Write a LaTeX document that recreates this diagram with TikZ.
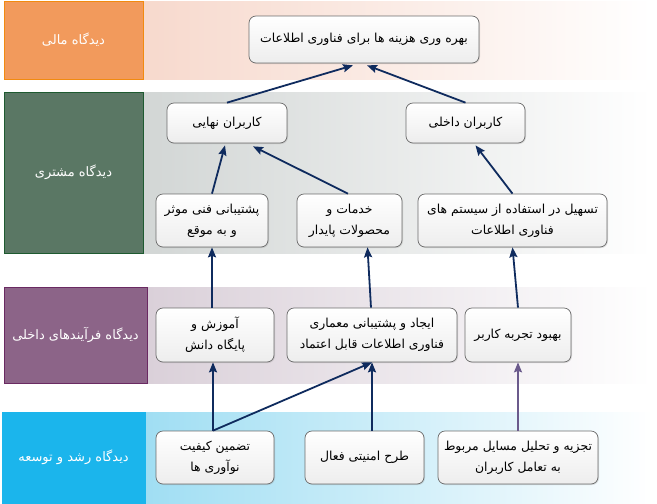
\documentclass[tikz,border=0pt]{standalone}
\usepackage{fontspec}
\newfontfamily\arabicfont[Script=Arabic]{DejaVu Sans}
\TeXXeTstate=1
\usetikzlibrary{shadows,arrows.meta}
\newcommand{\RLtext}[1]{\beginR #1\endR}
\definecolor{navy}{HTML}{0F2B5E}
\definecolor{purpline}{HTML}{6B5A8C}
\definecolor{orangebox}{HTML}{F29A5C}
\definecolor{orangeedge}{HTML}{F28A10}
\definecolor{greenbox}{HTML}{5A7764}
\definecolor{greenedge}{HTML}{1E5A30}
\definecolor{purplebox}{HTML}{8C6488}
\definecolor{purpleedge}{HTML}{6A2A62}
\definecolor{cyanbox}{HTML}{1BB5EC}
\definecolor{band1}{HTML}{F7D9CD}
\definecolor{band2}{HTML}{D2D6D5}
\definecolor{band3}{HTML}{DAD0D9}
\definecolor{band4}{HTML}{A0DEF3}
\begin{document}
\begin{tikzpicture}[x=1pt,y=-1pt,
  stepbox/.style={draw=gray!85!black, line width=0.7pt, rounded corners=7pt,
    top color=white, bottom color=gray!14, drop shadow={opacity=0.25,shadow xshift=1pt,shadow yshift=-1pt},
    inner sep=0pt, align=center, font=\arabicfont\fontsize{12.4}{21}\selectfont, text=black},
  viewbox/.style={inner sep=0pt, align=center, text=white, font=\arabicfont\fontsize{13}{15}\selectfont, line width=0.8pt},
  link/.style={draw=navy, line width=1.8pt, -{Stealth[length=10pt,width=8pt,inset=1.5pt]}},
  plink/.style={draw=purpline, line width=1.8pt, -{Stealth[length=10pt,width=8pt,inset=1.5pt]}}
]
\useasboundingbox (0,0) rectangle (657,504);
% bands
\fill[left color=band1, right color=white] (143,1) rectangle (652,79);
\fill[left color=band2, right color=white] (143,92) rectangle (652,253);
\fill[left color=band3, right color=white] (147,287) rectangle (652,383);
\fill[left color=band4, right color=white] (145,412) rectangle (652,503);
% perspective labels
\node[viewbox, fill=orangebox, draw=orangeedge, minimum width=139pt, minimum height=78pt] (v1) at (73.5,40) {\RLtext{دیدگاه مالی}};
\node[viewbox, fill=greenbox, draw=greenedge, minimum width=139pt, minimum height=161pt] (v2) at (73.5,172.5) {\RLtext{دیدگاه مشتری}};
\node[viewbox, fill=purplebox, draw=purpleedge, minimum width=143pt, minimum height=96pt] (v3) at (75.5,335) {\RLtext{دیدگاه فرآیندهای داخلی}};
\node[viewbox, fill=cyanbox, draw=cyanbox, minimum width=143pt, minimum height=91pt] (v4) at (73.5,457.5) {\RLtext{دیدگاه رشد و توسعه}};
% nodes
\node[stepbox, minimum width=230pt, minimum height=47pt] (top) at (364,39.5) {\RLtext{بهره وری هزینه ها برای فناوری اطلاعات}};
\node[stepbox, minimum width=120pt, minimum height=40pt] (nahaee) at (227,123) {\RLtext{کاربران نهایی}};
\node[stepbox, minimum width=119pt, minimum height=40pt] (dakheli) at (465.5,123) {\RLtext{کاربران داخلی}};
\node[stepbox, minimum width=112pt, minimum height=53pt] (poshtibani) at (212,220.5) {\RLtext{پشتیبانی فنی موثر}\\\RLtext{و به موقع}};
\node[stepbox, minimum width=105pt, minimum height=53pt] (khadamat) at (349.5,220.5) {\RLtext{خدمات و}\\\RLtext{محصولات پایدار}};
\node[stepbox, minimum width=189pt, minimum height=53pt] (tashil) at (512.5,220.5) {\RLtext{تسهیل در استفاده از سیستم های}\\\RLtext{فناوری اطلاعات}};
\node[stepbox, minimum width=118pt, minimum height=54pt] (amoozesh) at (215,335) {\RLtext{آموزش و}\\\RLtext{پایگاه دانش}};
\node[stepbox, minimum width=170pt, minimum height=54pt] (ijad) at (372,335) {\RLtext{ایجاد و پشتیبانی معماری}\\\RLtext{فناوری اطلاعات قابل اعتماد}};
\node[stepbox, minimum width=106pt, minimum height=54pt] (behbood) at (518,335) {\RLtext{بهبود تجربه کاربر}};
\node[stepbox, minimum width=118pt, minimum height=53pt] (tazmin) at (215,457.5) {\RLtext{تضمین کیفیت}\\\RLtext{نوآوری ها}};
\node[stepbox, minimum width=119pt, minimum height=53pt] (tarh) at (364.5,457.5) {\RLtext{طرح امنیتی فعال}};
\node[stepbox, minimum width=160pt, minimum height=53pt] (tajzie) at (518,457.5) {\RLtext{تجزیه و تحلیل مسایل مربوط}\\\RLtext{به تعامل کاربران}};
% connectors
\draw[link] (nahaee.north) -- ([xshift=-11pt,yshift=-2pt]top.south);
\draw[link] (dakheli.north) -- ([xshift=3pt,yshift=-2pt]top.south);
\draw[link] (poshtibani.north) -- ([xshift=-2pt,yshift=-2pt]nahaee.south);
\draw[link] ([xshift=-1.5pt]khadamat.north) -- ([xshift=26pt,yshift=-3pt]nahaee.south);
\draw[link] (tashil.north) -- ([xshift=10pt,yshift=-2pt]dakheli.south);
\draw[link] (poshtibani.south |- amoozesh.north) -- (poshtibani.south);
\draw[link] ([xshift=-1pt]ijad.north) -- ([xshift=18pt]khadamat.south);
\draw[link] (behbood.north) -- (tashil.south);
\draw[link] ([xshift=-2pt]tazmin.north) -- ([xshift=-2pt]amoozesh.south);
\draw[link] ([xshift=-2pt]tazmin.north) -- (ijad.south);
\draw[link] ([xshift=7.5pt]tarh.north) -- (ijad.south);
\draw[plink] (tajzie.north) -- (behbood.south);
\end{tikzpicture}
\end{document}
